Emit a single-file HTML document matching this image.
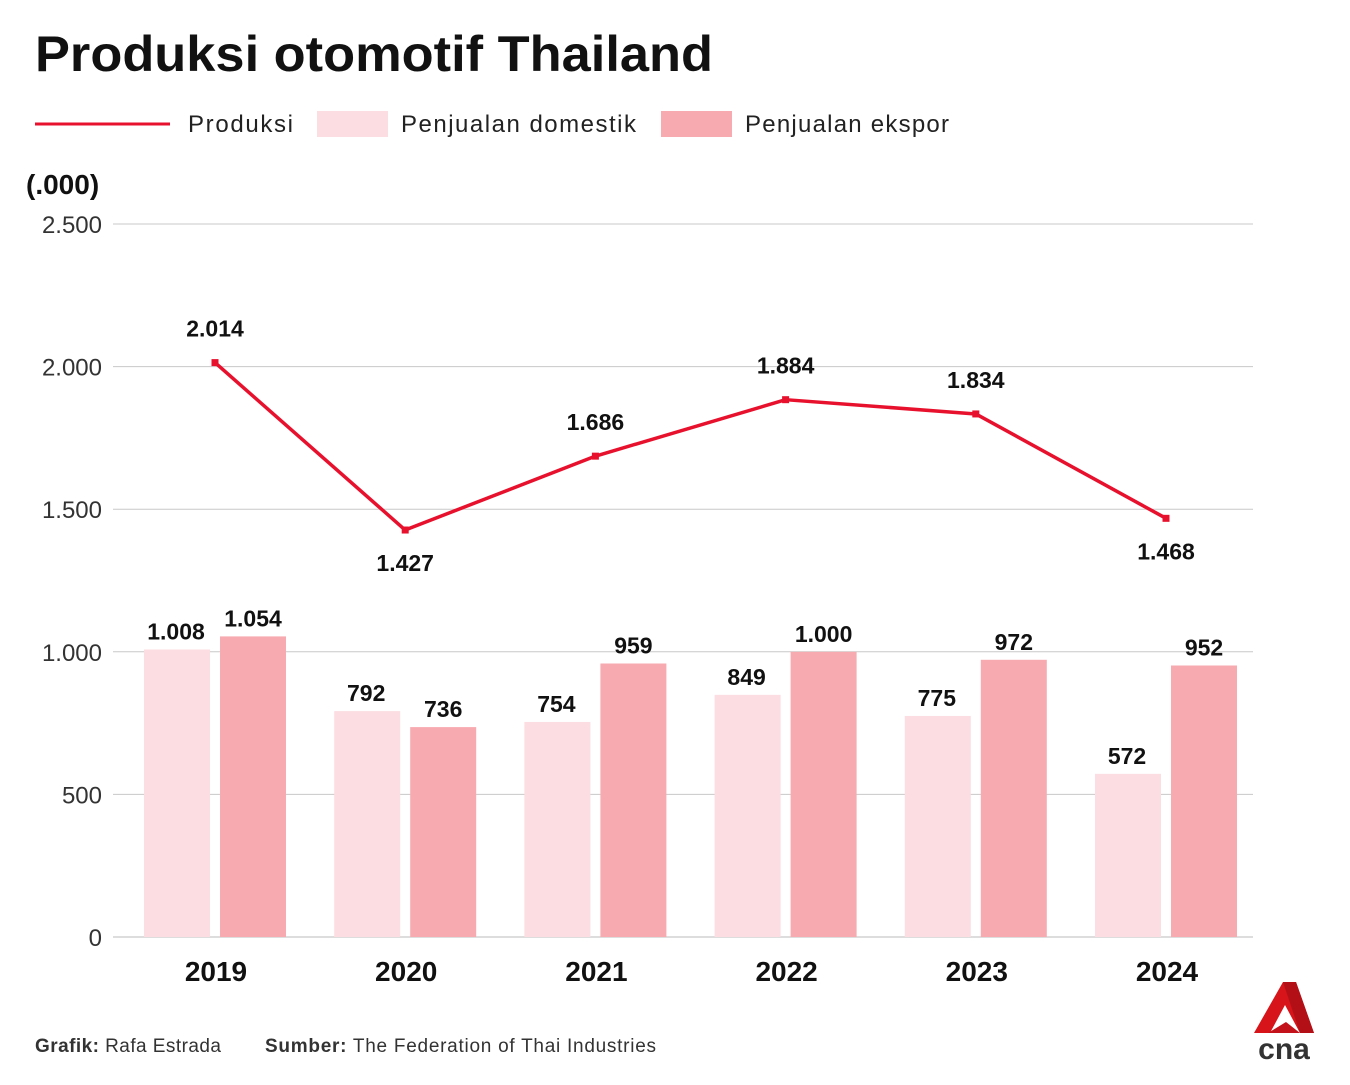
<!DOCTYPE html>
<html><head><meta charset="utf-8">
<style>
html,body{margin:0;padding:0;background:#fff;}
body{width:1350px;height:1080px;overflow:hidden;position:relative;font-family:"Liberation Sans",sans-serif;}
</style></head>
<body>
<svg id="chart" width="1350" height="1080" xmlns="http://www.w3.org/2000/svg" font-family="Liberation Sans, sans-serif">
<text x="35" y="71" font-size="50" font-weight="bold" fill="#111" textLength="678" lengthAdjust="spacingAndGlyphs">Produksi otomotif Thailand</text>
<g>
 <line x1="35" y1="124" x2="170" y2="124" stroke="#e8112d" stroke-width="3"/>
 <text x="188" y="132" font-size="24" fill="#222" textLength="105">Produksi</text>
 <rect x="317" y="111" width="71" height="26" fill="#fcdde1"/>
 <text x="401" y="132" font-size="24" fill="#222" textLength="235">Penjualan domestik</text>
 <rect x="661" y="111" width="71" height="26" fill="#f7abb1"/>
 <text x="745" y="132" font-size="24" fill="#222" textLength="204">Penjualan ekspor</text>
</g>
<text x="26" y="194" font-size="28" font-weight="bold" fill="#111">(.000)</text>
<g id="grid"></g>
<g id="bars"></g>
<g id="line"></g>
<g id="labels"></g>
<g id="xaxis"></g>
<text x="35" y="1052" font-size="19" fill="#333" textLength="186"><tspan font-weight="bold">Grafik:</tspan> Rafa Estrada</text>
<text x="265" y="1052" font-size="19" fill="#333" textLength="391"><tspan font-weight="bold">Sumber:</tspan> The Federation of Thai Industries</text>
<g>
 <polygon points="1254,1033 1283,982 1296,982 1314,1033 1300,1033 1285,1005 1270,1033" fill="#d7141a"/>
 <polygon points="1283,982 1296,982 1314,1033 1300,1033" fill="#b30f16"/>
 <polygon points="1268,1033 1286,1022 1300,1033" fill="#c4121a"/>
 <text x="1284" y="1059" font-size="30" font-weight="bold" fill="#333" text-anchor="middle">cna</text>
</g>
</svg>
<script>
const years = ["2019","2020","2021","2022","2023","2024"];
const produksi = [2014,1427,1686,1884,1834,1468];
const domestik = [1008,792,754,849,775,572];
const ekspor = [1054,736,959,1000,972,952];
const yTicks = [0,500,1000,1500,2000,2500];
const yTickLabels = ["0","500","1.000","1.500","2.000","2.500"];
const produksiLabels = ["2.014","1.427","1.686","1.884","1.834","1.468"];
const domestikLabels = ["1.008","792","754","849","775","572"];
const eksporLabels = ["1.054","736","959","1.000","972","952"];

const NS="http://www.w3.org/2000/svg";
function yS(v){return 937-v*(713/2500);}
function xS(i){return 215+i*190.2;}
function mk(parent,tag,attrs,text){const e=document.createElementNS(NS,tag);for(const k in attrs)e.setAttribute(k,attrs[k]);if(text!==undefined)e.textContent=text;document.getElementById(parent).appendChild(e);return e;}

yTicks.forEach((t,i)=>{
 const l=mk("grid","line",{x1:113,x2:1253,y1:yS(t),y2:yS(t),stroke:t===0?"#bbb":"#c8c8c8","stroke-width":1});
 
 
 const tx=mk("grid","text",{x:102,y:yS(t)+9,"font-size":24,fill:"#333","text-anchor":"end"},yTickLabels[i]);
 
 
});
years.forEach((y,i)=>{
 const cx=xS(i);
 const d=mk("bars","rect",{x:cx-71,y:yS(domestik[i]),width:66,height:yS(0)-yS(domestik[i]),fill:"#fcdde1"});
 
 
 const e=mk("bars","rect",{x:cx+5,y:yS(ekspor[i]),width:66,height:yS(0)-yS(ekspor[i]),fill:"#f7abb1"});
 
 
 const dl=mk("labels","text",{x:cx-39,y:yS(domestik[i])-10,"font-size":23,"font-weight":"bold",fill:"#111","text-anchor":"middle"},domestikLabels[i]);
 
 
 const el=mk("labels","text",{x:cx+38,y:yS(ekspor[i])-10,"font-size":23,"font-weight":"bold",fill:"#111","text-anchor":"middle"},eksporLabels[i]);
 
 
 const xl=mk("xaxis","text",{x:cx+1,y:981,"font-size":28,"font-weight":"bold",fill:"#111","text-anchor":"middle"},y);
 
 
});
const pts=produksi.map((v,i)=>xS(i)+","+yS(v)).join(" ");
const pl=mk("line","polyline",{points:pts,fill:"none",stroke:"#e8112d","stroke-width":3.5,"stroke-linejoin":"round"});


produksi.forEach((v,i)=>{
 const m=mk("line","rect",{x:xS(i)-3.5,y:yS(v)-3.5,width:7,height:7,fill:"#e8112d"});
 
 
 const prev=i>0?produksi[i-1]:produksi[i+1];
 const below=(i>0&&v<prev)&&(i===produksi.length-1||v<produksi[i+1]);
 const ty=below?yS(v)+41:yS(v)-26;
 const t=mk("labels","text",{x:xS(i),y:ty,"font-size":23,"font-weight":"bold",fill:"#111","text-anchor":"middle"},produksiLabels[i]);
 
 
});
</script>
</body></html>
